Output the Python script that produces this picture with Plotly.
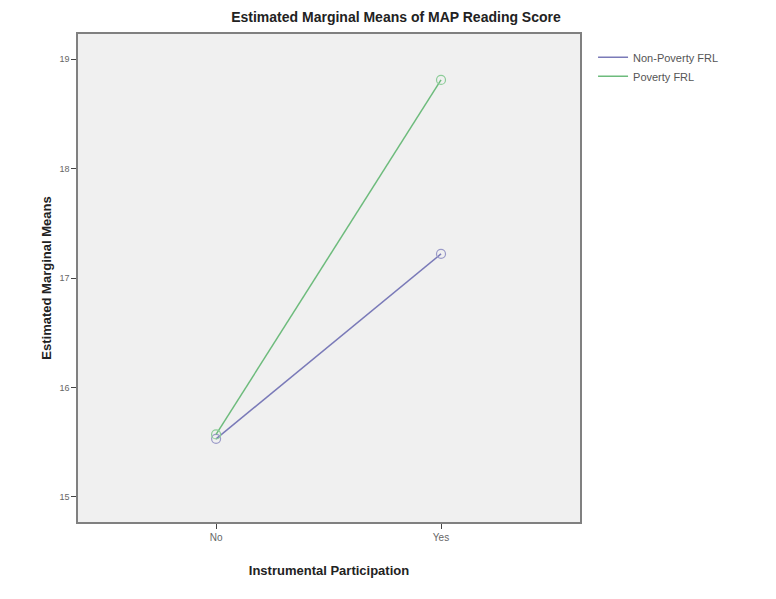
import plotly.graph_objects as go

categories = ["No", "Yes"]
x_pos = [0, 1]
non_poverty = [15.53, 17.22]
poverty = [15.57, 18.81]
y_ticks = [15, 16, 17, 18, 19]

np_color = "#7a7ab8"
p_color = "#6dbb7c"

fig = go.Figure()
fig.add_trace(go.Scatter(
    x=x_pos, y=non_poverty, name="Non-Poverty FRL", mode="lines+markers",
    line=dict(color=np_color, width=1.5), showlegend=False,
    marker=dict(symbol="circle-open", size=9, color="#9a9ac8", line=dict(width=1.2)),
))
fig.add_trace(go.Scatter(
    x=x_pos, y=poverty, name="Poverty FRL", mode="lines+markers",
    line=dict(color=p_color, width=1.5), showlegend=False,
    marker=dict(symbol="circle-open", size=9, color="#8ccc98", line=dict(width=1.2)),
))
# legend entries (lines only)
fig.add_trace(go.Scatter(x=[None], y=[None], name="Non-Poverty FRL", mode="lines",
                         line=dict(color=np_color, width=1.5)))
fig.add_trace(go.Scatter(x=[None], y=[None], name="Poverty FRL", mode="lines",
                         line=dict(color=p_color, width=1.5)))

fig.update_layout(
    width=776, height=599,
    margin=dict(l=70, r=204, t=26, b=85, autoexpand=False),
    paper_bgcolor="white", plot_bgcolor="#f0f0f0",
    font=dict(family="Liberation Sans, Arial, sans-serif", color="#222"),
    title=dict(text="<b>Estimated Marginal Means of MAP Reading Score</b>",
               x=0.5, xanchor="center", y=0.985, yanchor="middle",
               font=dict(size=14, color="#222")),
    showlegend=True,
    legend=dict(x=1.026, y=0.982, xanchor="left", yanchor="top",
                bgcolor="rgba(0,0,0,0)", font=dict(size=11, color="#555"),
                tracegroupgap=0, itemwidth=30),
)
fig.update_xaxes(
    range=[-0.614, 1.618], tickvals=x_pos, ticktext=categories,
    showgrid=False, zeroline=False, showline=True, linecolor="#808080", linewidth=1.5,
    mirror=True, ticks="outside", ticklen=5, tickcolor="#444",
    tickfont=dict(size=10, color="#666"), automargin=False,
    title=dict(text="<b>Instrumental Participation</b>", font=dict(size=13, color="#222"), standoff=24),
)
fig.update_yaxes(
    range=[14.77, 19.23], tickvals=y_ticks,
    showgrid=False, zeroline=False, showline=True, linecolor="#808080", linewidth=1.5,
    mirror=True, ticks="outside", ticklen=5, tickcolor="#444",
    tickfont=dict(size=9, color="#666"), automargin=False,
    title=dict(text="<b>Estimated Marginal Means</b>", font=dict(size=13, color="#222"), standoff=5),
)

fig.write_html("out.html")
